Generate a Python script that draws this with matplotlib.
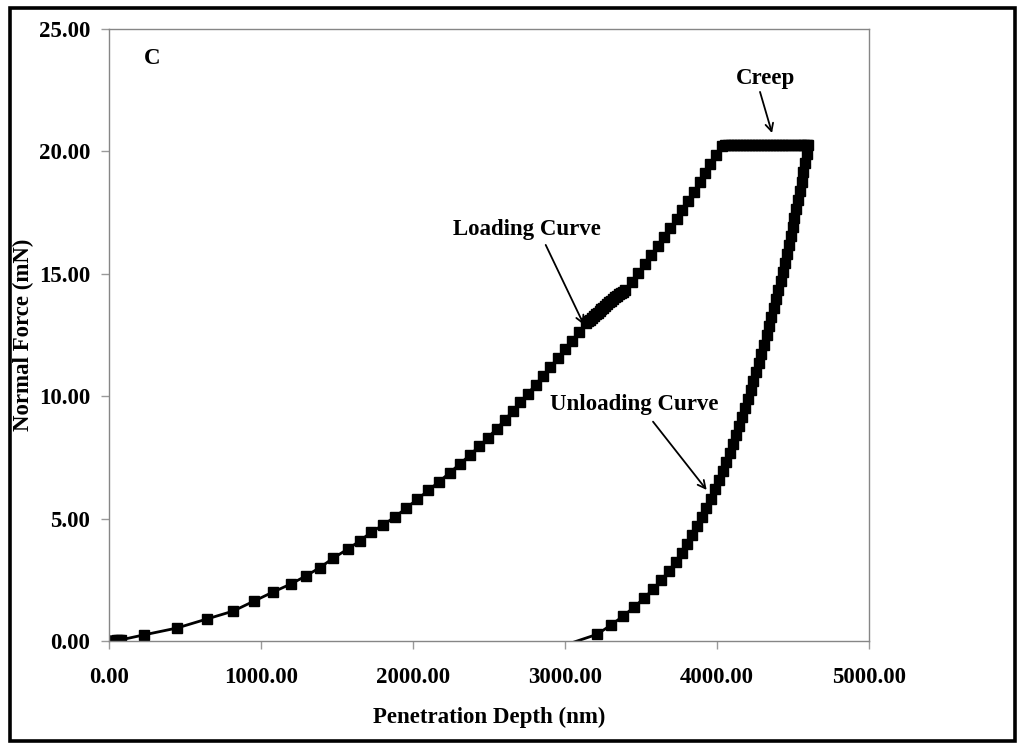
import matplotlib
matplotlib.use("Agg")
import matplotlib.pyplot as plt
from matplotlib.ticker import FormatStrFormatter
from matplotlib.patches import Rectangle

# ---------------- data ----------------
# loading segment: penetration depth (nm) and normal force (mN)
load_depth = [0, 5, 12, 20, 30, 42, 55, 68, 80,
              230, 447, 645, 816, 954, 1079, 1197, 1296, 1388, 1474, 1572,
              1651, 1724, 1803, 1882, 1956, 2029, 2101, 2172, 2241, 2308,
              2373, 2435, 2494, 2550, 2604, 2656, 2707, 2757, 2806, 2855,
              2903, 2951, 2998, 3045, 3092, 3138,
              3150, 3162, 3175, 3188, 3201, 3214, 3227, 3240, 3253, 3266,
              3279, 3292, 3305, 3318, 3331, 3344, 3357, 3370, 3383, 3395,
              3439, 3483, 3526, 3569, 3611, 3653, 3694, 3734, 3773, 3811,
              3848, 3885, 3921, 3957, 3993, 4030]
load_force = [0.00, 0.00, 0.00, 0.01, 0.01, 0.02, 0.03, 0.04, 0.05,
              0.25, 0.53, 0.90, 1.22, 1.63, 2.00, 2.33, 2.66, 3.00, 3.38, 3.76,
              4.09, 4.44, 4.74, 5.07, 5.43, 5.79, 6.15, 6.51, 6.87, 7.23,
              7.59, 7.95, 8.31, 8.67, 9.03, 9.39, 9.75, 10.11, 10.47, 10.83,
              11.19, 11.55, 11.91, 12.27, 12.63, 12.99,
              13.06, 13.13, 13.20, 13.27, 13.34, 13.41, 13.48, 13.55, 13.62, 13.69,
              13.76, 13.83, 13.90, 13.97, 14.04, 14.10, 14.16, 14.22, 14.27, 14.32,
              14.66, 15.03, 15.40, 15.77, 16.14, 16.51, 16.88, 17.25, 17.62, 17.99,
              18.36, 18.73, 19.10, 19.47, 19.84, 20.21]

# creep (hold at peak load)
creep_depth = [4050, 4070, 4090, 4110, 4130, 4150, 4170, 4190, 4210, 4230,
               4250, 4270, 4290, 4310, 4330, 4350, 4370, 4390, 4410, 4430,
               4450, 4470, 4490, 4510, 4530, 4550, 4570, 4590]
creep_force = [20.25, 20.25, 20.25, 20.25, 20.25, 20.25, 20.25, 20.25, 20.25, 20.25,
               20.25, 20.25, 20.25, 20.25, 20.25, 20.25, 20.25, 20.25, 20.25, 20.25,
               20.25, 20.25, 20.25, 20.25, 20.25, 20.25, 20.25, 20.25]

# unloading segment
unload_depth = [4596, 4589, 4578, 4567, 4556, 4545, 4533, 4521, 4509, 4497,
                4485, 4472, 4459, 4446, 4432, 4418, 4404, 4389, 4374, 4358,
                4342, 4326, 4309, 4292, 4275, 4258, 4240, 4222, 4204, 4186,
                4167, 4148, 4128, 4107, 4085, 4062, 4038, 4013, 3987, 3959,
                3930, 3900, 3869, 3837, 3803, 3767, 3727, 3683, 3634, 3580,
                3520, 3454, 3381, 3300, 3210, 2960]
unload_force = [20.25, 19.88, 19.51, 19.14, 18.77, 18.40, 18.03, 17.66, 17.29, 16.92,
                16.55, 16.18, 15.81, 15.44, 15.07, 14.70, 14.33, 13.96, 13.59, 13.22,
                12.85, 12.48, 12.11, 11.74, 11.37, 11.00, 10.63, 10.26, 9.89, 9.52,
                9.15, 8.78, 8.41, 8.04, 7.67, 7.30, 6.93, 6.56, 6.19, 5.82,
                5.45, 5.08, 4.71, 4.34, 3.97, 3.60, 3.23, 2.86, 2.49, 2.12,
                1.75, 1.38, 1.01, 0.64, 0.27, -0.25]

x_ticks = [0, 1000, 2000, 3000, 4000, 5000]
y_ticks = [0, 5, 10, 15, 20, 25]

# ---------------- figure ----------------
plt.rcParams["font.family"] = ["Liberation Serif", "DejaVu Serif"]
plt.rcParams["font.weight"] = "bold"
FS = 16.5

fig = plt.figure(figsize=(10.19, 7.44), dpi=100)
fig.patch.set_facecolor("white")
ax = fig.add_axes([109 / 1019, 103 / 744, 760 / 1019, 612 / 744])

depth = load_depth + creep_depth + unload_depth
force = load_force + creep_force + unload_force
marked = [i for i, f in enumerate(force) if f >= 0]
ax.plot(depth, force, color="black", lw=2.0, marker="s", markersize=7.8,
        markerfacecolor="black", markeredgecolor="black", markevery=marked)

ax.set_xlim(0, 5000)
ax.set_ylim(0, 25)
ax.set_xticks(x_ticks)
ax.set_yticks(y_ticks)
ax.xaxis.set_major_formatter(FormatStrFormatter("%.2f"))
ax.yaxis.set_major_formatter(FormatStrFormatter("%.2f"))

for s in ax.spines.values():
    s.set_color("#868686")
    s.set_linewidth(1.0)
ax.tick_params(axis="both", direction="out", length=5.5, width=1.0,
               color="#9a9a9a", labelsize=FS)
ax.tick_params(axis="x", pad=13)
ax.tick_params(axis="y", pad=8)
for lab in ax.get_xticklabels() + ax.get_yticklabels():
    lab.set_fontweight("bold")

ax.set_xlabel("Penetration Depth (nm)", fontsize=FS, fontweight="bold")
ax.set_ylabel("Normal Force (mN)", fontsize=FS, fontweight="bold")
ax.xaxis.set_label_coords(0.5, -0.108)
ax.yaxis.set_label_coords(-0.098, 0.5)

# panel letter
ax.text(283, 23.81, "C", fontsize=FS, fontweight="bold", ha="center", va="center")

arrow_kw = dict(arrowstyle="->,head_length=0.55,head_width=0.28", color="black",
                lw=1.3, shrinkA=0, shrinkB=0)

# annotations
ax.text(4316, 22.96, "Creep", fontsize=FS, fontweight="bold", ha="center", va="center")
ax.annotate("", xy=(4362, 20.75), xytext=(4283, 22.43), arrowprops=arrow_kw)

ax.text(2750, 16.83, "Loading Curve", fontsize=FS, fontweight="bold", ha="center", va="center")
ax.annotate("", xy=(3125, 12.91), xytext=(2873, 16.18), arrowprops=arrow_kw)

ax.text(3457, 9.68, "Unloading Curve", fontsize=FS, fontweight="bold", ha="center", va="center")
ax.annotate("", xy=(3932, 6.17), xytext=(3579, 8.96), arrowprops=arrow_kw)

# outer black frame
fig.patches.append(Rectangle((9.5 / 1019, 3.0 / 744), 1005.5 / 1019, 733.5 / 744,
                             transform=fig.transFigure, fill=False,
                             edgecolor="black", lw=2.6))

fig.savefig("out.png", dpi=100, facecolor="white")
